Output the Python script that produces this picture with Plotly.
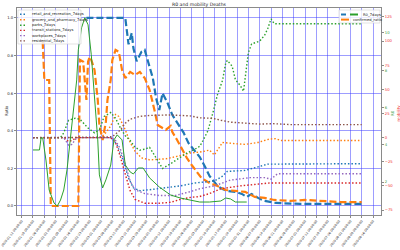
import plotly.graph_objects as go

# ---------------- data ----------------
# left axis "Ratio"
deaths_dates = ["2020-02-21","2020-03-16","2020-03-18","2020-03-20","2020-03-21","2020-03-23","2020-03-26","2020-03-28",
                "2020-03-30","2020-04-02","2020-04-04","2020-04-06","2020-04-08","2020-04-11","2020-04-14","2020-04-18",
                "2020-04-21","2020-04-24","2020-04-27","2020-05-01","2020-05-04","2020-05-07","2020-05-10","2020-05-12",
                "2020-05-15","2020-05-18","2020-05-23","2020-05-27","2020-05-30","2020-06-02","2020-06-06","2020-06-10",
                "2020-06-17","2020-07-02","2020-07-20","2020-08-09"]
deaths_ratio = [1.0,1.0,0.86,0.92,0.84,0.77,0.82,0.83,0.77,0.68,0.575,0.51,0.60,0.55,0.485,0.43,0.39,0.335,0.30,0.26,
                0.213,0.16,0.128,0.106,0.09,0.08,0.075,0.064,0.048,0.064,0.043,0.027,0.016,0.011,0.011,0.011]

confirmed_dates = ["2020-01-25","2020-01-26","2020-01-29","2020-01-30","2020-02-16","2020-02-17","2020-02-19","2020-02-21",
                   "2020-02-22","2020-02-23","2020-02-24","2020-02-26","2020-02-28","2020-02-29","2020-03-02","2020-03-04",
                   "2020-03-05","2020-03-07","2020-03-08","2020-03-10","2020-03-12","2020-03-14","2020-03-16","2020-03-19",
                   "2020-03-22","2020-03-25","2020-03-28","2020-03-31","2020-04-03","2020-04-05","2020-04-08","2020-04-10",
                   "2020-04-13","2020-04-14","2020-04-17","2020-04-21","2020-04-23","2020-04-26","2020-04-29","2020-05-02",
                   "2020-05-07","2020-05-12","2020-05-17","2020-05-23","2020-05-29","2020-06-04","2020-06-10","2020-06-16",
                   "2020-06-26","2020-07-05","2020-07-14","2020-07-27","2020-08-09"]
confirmed_ratio = [0.873,0.67,0.67,0.0,0.0,0.777,0.767,0.564,0.767,0.793,0.777,0.724,0.564,0.431,0.351,0.447,0.564,0.671,
                   0.777,0.83,0.82,0.724,0.68,0.713,0.697,0.713,0.68,0.618,0.511,0.431,0.415,0.405,0.426,0.394,0.351,0.288,
                   0.256,0.218,0.181,0.149,0.122,0.106,0.085,0.08,0.075,0.048,0.043,0.032,0.027,0.032,0.027,0.021,0.021]

# green right axis "R0"
r0_dates = ["2020-01-19","2020-01-23","2020-01-24","2020-01-25","2020-01-27","2020-01-29","2020-02-01","2020-02-03",
            "2020-02-05","2020-02-07","2020-02-09","2020-02-11","2020-02-13","2020-02-15","2020-02-16","2020-02-18",
            "2020-02-20","2020-02-22","2020-02-24","2020-02-26","2020-02-28","2020-02-29","2020-03-02","2020-03-04",
            "2020-03-07","2020-03-09","2020-03-11","2020-03-14","2020-03-16","2020-03-19","2020-03-21","2020-03-24",
            "2020-03-27","2020-03-31","2020-04-06","2020-04-13","2020-04-19","2020-04-25","2020-05-01","2020-05-07",
            "2020-05-14","2020-05-17","2020-05-20","2020-05-23","2020-05-30"]
r0_7days = [3.72,3.72,4.37,4.37,3.18,1.57,0.87,0.71,1.03,1.57,2.65,4.26,5.87,7.48,9.10,10.28,10.82,10.44,8.83,6.41,
            4.26,2.38,1.68,2.11,2.91,4.26,4.53,4.26,2.91,2.54,2.43,2.75,2.75,2.22,1.73,1.30,1.14,1.03,0.925,0.925,
            0.98,1.14,1.09,0.925,0.925]

# red right axis: mobility (percent change)
retail_dates = ["2020-01-19","2020-03-07","2020-03-08","2020-03-11","2020-03-15","2020-03-18","2020-03-21","2020-03-25",
                "2020-03-31","2020-04-10","2020-04-19","2020-04-28","2020-05-10","2020-05-15","2020-05-18","2020-05-29",
                "2020-06-04","2020-06-12","2020-08-09"]
retail_7days = [0,0,-1,-8,-25,-42,-52,-55,-54,-52,-50,-47,-45,-40,-35,-34,-31,-27.5,-27]

grocery_dates = ["2020-01-19","2020-02-29","2020-03-03","2020-03-07","2020-03-10","2020-03-12","2020-03-16","2020-03-19",
                 "2020-03-22","2020-03-26","2020-03-31","2020-04-10","2020-04-18","2020-04-25","2020-05-01","2020-05-07",
                 "2020-05-10","2020-05-15","2020-05-21","2020-05-29","2020-06-06","2020-06-13","2020-06-17","2020-06-20",
                 "2020-08-09"]
grocery_7days = [0,0,3,12,24,22,8,-5,-14,-21,-23,-22,-19,-16,-15,-13,-18,-5,-6,-7,-5,-1.5,-1,-3,-3]

parks_dates = ["2020-01-19","2020-02-05","2020-02-07","2020-02-10","2020-02-14","2020-02-17","2020-02-22","2020-02-26",
               "2020-02-29","2020-03-03","2020-03-07","2020-03-10","2020-03-13","2020-03-16","2020-03-19","2020-03-22",
               "2020-03-25","2020-03-28","2020-03-31","2020-04-03","2020-04-08","2020-04-13","2020-04-19","2020-04-23",
               "2020-04-28","2020-05-01","2020-05-03","2020-05-06","2020-05-09","2020-05-12","2020-05-15","2020-05-17",
               "2020-05-18","2020-05-21","2020-05-23","2020-05-26","2020-05-28","2020-05-31","2020-06-02","2020-06-07",
               "2020-06-10","2020-06-12","2020-06-14","2020-06-16","2020-08-09"]
parks_7days = [0,0,5,18,20,19,10,5,8,22,26,20,10,2,-3,-10,-13,-12,-10,-18,-32,-27,-20,-16,-12,-9,-3,7,25,45,
               59,77,80,74,60,54,48,88,97,100,106,113,123,118,118]

transit_dates = ["2020-01-19","2020-02-07","2020-02-10","2020-02-12","2020-02-15","2020-03-07","2020-03-10","2020-03-13",
                 "2020-03-16","2020-03-19","2020-03-22","2020-03-28","2020-04-06","2020-04-13","2020-04-19","2020-04-25",
                 "2020-05-01","2020-05-07","2020-05-14","2020-05-26","2020-06-07","2020-06-13","2020-08-09"]
transit_7days = [0,0,-4,-3,0,0,-5,-20,-38,-55,-64,-68,-68,-67,-64,-62,-61,-58,-53,-50,-48,-47,-47]

work_dates = ["2020-01-19","2020-02-07","2020-02-10","2020-02-12","2020-02-15","2020-03-08","2020-03-10","2020-03-13",
              "2020-03-16","2020-03-19","2020-03-22","2020-03-28","2020-04-06","2020-04-16","2020-04-25","2020-05-01",
              "2020-05-10","2020-05-20","2020-06-01","2020-06-10","2020-06-14","2020-06-18","2020-08-09"]
work_7days = [0,0,-8,-7,0,0,-3,-12,-28,-45,-54,-58,-60,-60,-56,-53,-50,-44,-41.5,-41.5,-43,-37.5,-37.5]

resid_dates = ["2020-01-19","2020-02-29","2020-03-03","2020-03-08","2020-03-13","2020-03-16","2020-03-19","2020-03-25",
               "2020-03-31","2020-04-13","2020-04-25","2020-05-01","2020-05-09","2020-05-14","2020-05-20","2020-05-29",
               "2020-06-07","2020-06-15","2020-06-26","2020-08-09"]
resid_7days = [0,0,0.5,1,8,15,19,22,23,23.5,22.5,20.5,20,18,16,15,14,14.5,13.5,13.5]

mobility_names = ["retail_and_recreation_7days","grocery_and_pharmacy_7days","parks_7days",
                  "transit_stations_7days","workplaces_7days","residential_7days"]
ratio_ticks = [0.0, 0.2, 0.4, 0.6, 0.8, 1.0]
mobility_ticks = [-75, -50, -25, 0, 25, 50, 75, 100, 125]
r0_ticks = [2, 4, 6, 8, 10]

# ---------------- styling ----------------
C_BLUE, C_ORANGE, C_GREEN = "#1f77b4", "#ff7f0e", "#2ca02c"
C_RED, C_PURPLE, C_BROWN = "#d62728", "#9467bd", "#8c564b"
mob_colors = [C_BLUE, C_ORANGE, C_GREEN, C_RED, C_PURPLE, C_BROWN]
GRID = "rgba(60,60,255,0.5)"
SPINE = "#8a8a8a"
FONT = "DejaVu Sans"
DOT = "1.5px,2px"
DASH = "7px,3px"

W, H = 400, 250
L, R, T, B = 17, 381, 8, 215


def px_x(px):
    return (px - L) / (R - L)


def px_y(py):
    return (B - py) / (B - T)


fig = go.Figure()
fig.add_trace(go.Scatter(x=deaths_dates, y=deaths_ratio, mode="lines", yaxis="y",
                         line=dict(color=C_BLUE, width=2.2, dash=DASH), name="deaths_ratio"))
fig.add_trace(go.Scatter(x=confirmed_dates, y=confirmed_ratio, mode="lines", yaxis="y",
                         line=dict(color=C_ORANGE, width=2.2, dash=DASH), name="confirmed_ratio"))

mob_series = [(retail_dates, retail_7days), (grocery_dates, grocery_7days), (parks_dates, parks_7days),
              (transit_dates, transit_7days), (work_dates, work_7days), (resid_dates, resid_7days)]
for (d, v), name, col in zip(mob_series, mobility_names, mob_colors):
    fig.add_trace(go.Scatter(x=d, y=v, mode="lines", yaxis="y2", name=name,
                             line=dict(color=col, width=1.4, dash=DOT)))

fig.add_trace(go.Scatter(x=r0_dates, y=r0_7days, mode="lines", yaxis="y3", name="R0_7days",
                         line=dict(color=C_GREEN, width=1)))

axis_common = dict(showline=True, linecolor=SPINE, linewidth=1, ticks="outside", ticklen=2,
                   tickcolor=SPINE, zeroline=False, automargin=False)

fig.update_layout(
    width=W, height=H, margin=dict(l=L, r=W - R, t=T, b=H - B),
    paper_bgcolor="white", plot_bgcolor="white", showlegend=False,
    font=dict(family=FONT, size=4, color="#222"),
    title=dict(text="R0 and mobility Deaths", x=199 / W, y=1 - 4.5 / H, xanchor="center", yanchor="middle",
               xref="container", yref="container", font=dict(size=4.6, color="#222")),
    xaxis=dict(type="date", range=["2020-01-09 03:00", "2020-08-20 22:00"], tick0="2020-01-19",
               dtick=7 * 86400000, tickformat="%Y-%m-%d %H:%M:%S", tickangle=-52,
               tickfont=dict(size=3.1), showgrid=True, gridcolor=GRID, gridwidth=1, mirror=True, **axis_common),
    yaxis=dict(range=[-0.048, 1.053], tickvals=ratio_ticks, tickformat=".1f", tickfont=dict(size=3.8),
               showgrid=True, gridcolor=GRID, gridwidth=1, mirror=True, **axis_common),
    yaxis2=dict(overlaying="y", side="right", anchor="x", range=[-80.18, 134.3], tickvals=mobility_ticks,
                tickfont=dict(size=3.8, color="#f03030"), showgrid=False, zeroline=False, ticks="outside",
                ticklen=2, tickcolor=SPINE, showline=False, automargin=False),
    yaxis3=dict(overlaying="y", side="right", anchor="x", range=[0.228, 11.342], tickvals=r0_ticks,
                tickfont=dict(size=3.8, color="#3a9a3a"), showgrid=False, zeroline=False, ticks="outside",
                ticklen=2, tickcolor=SPINE, showline=False, automargin=False),
)

shapes = []
annotations = []


def text(px, py, s, color="#222", size=3.7, angle=0, xanchor="left"):
    annotations.append(dict(x=px_x(px), y=px_y(py), xref="paper", yref="paper", text=s, showarrow=False,
                            xanchor=xanchor, yanchor="middle", textangle=angle,
                            font=dict(family=FONT, size=size, color=color)))


def seg(x0, x1, py, color, width, dash="solid"):
    shapes.append(dict(type="line", xref="paper", yref="paper", x0=px_x(x0), x1=px_x(x1),
                       y0=px_y(py), y1=px_y(py), line=dict(color=color, width=width, dash=dash)))


def box(x0, y0, x1, y1):
    shapes.append(dict(type="rect", xref="paper", yref="paper", x0=px_x(x0), x1=px_x(x1),
                       y0=px_y(y1), y1=px_y(y0), fillcolor="rgba(255,255,255,0.8)",
                       line=dict(color="#d0d0d0", width=0.6)))


# axis titles
text(6, 111, "Ratio", size=4, angle=-90, xanchor="center")
text(392, 113, "R0", color="#3a9a3a", size=4, angle=-90, xanchor="center")
text(397.5, 113, "mobility", color="#f03030", size=4, angle=-90, xanchor="center")

# upper-left legend (mobility)
box(18, 10, 81, 44)
leg_y = [14.3, 19.8, 25.2, 30.4, 35.6, 40.9]
for yy, name, col in zip(leg_y, mobility_names, mob_colors):
    seg(20, 27, yy, col, 1.4, DOT)
    text(29.5, yy, name)

# upper-right legend
box(339, 10, 380, 23)
seg(341, 346, 14.5, C_BLUE, 2)
seg(350, 358, 14.5, C_GREEN, 2)
text(361, 14.5, "R0_7days")
seg(341, 349, 19.6, C_ORANGE, 2)
text(351, 19.6, "confirmed_ratio")

fig.update_layout(shapes=shapes, annotations=annotations)

fig.write_html("out.html")
